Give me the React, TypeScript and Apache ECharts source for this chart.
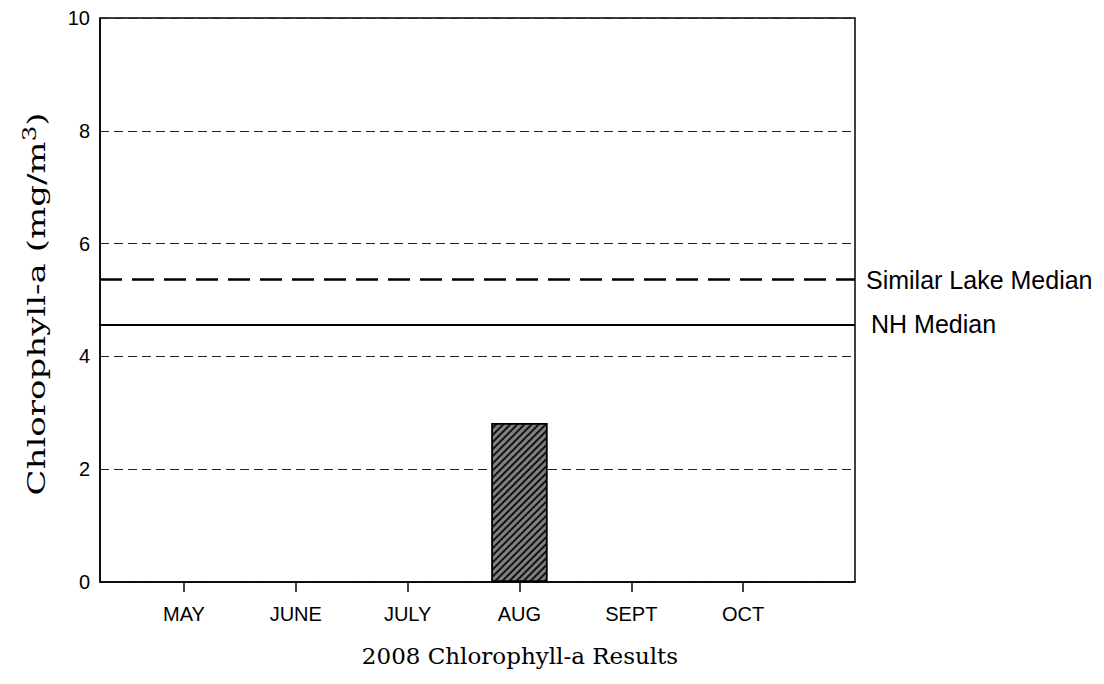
import React, { useEffect, useRef } from "react";
import * as echarts from "echarts";

const monthLabels = ["MAY", "JUNE", "JULY", "AUG", "SEPT", "OCT"];
const monthPositions = [5, 6, 7, 8, 9, 10];
const chlorophyll = [null, null, null, 2.82, null, null];
const similarLakeMedian = 5.36;
const nhMedian = 4.57;
const yTicks = [0, 2, 4, 6, 8, 10];

export default function App() {
  const ref = useRef<HTMLDivElement>(null);
  useEffect(() => {
    const chart = echarts.init(ref.current!, null, { renderer: "svg" });
    const barData = monthPositions
      .map((m, i) => [m, chlorophyll[i]])
      .filter((d) => d[1] !== null);
    chart.setOption({
      animation: false,
      grid: {
        left: 100,
        right: 249,
        top: 18,
        bottom: 102,
        show: true,
        borderColor: "#000",
        borderWidth: 1.5,
        containLabel: false,
      },
      xAxis: {
        type: "value",
        min: 4.25,
        max: 11,
        interval: 0.25,
        axisLine: { show: true, onZero: false, lineStyle: { color: "#000", width: 1.5 } },
        axisTick: {
          show: true,
          customValues: monthPositions,
          length: 10,
          lineStyle: { color: "#000", width: 1.5 },
        },
        axisLabel: {
          customValues: monthPositions,
          formatter: (v: number) => monthLabels[monthPositions.indexOf(Math.round(v))] ?? "",
          color: "#000",
          fontFamily: "Liberation Sans",
          fontSize: 20,
          margin: 22,
        },
        splitLine: { show: false },
      },
      yAxis: {
        type: "value",
        min: yTicks[0],
        max: yTicks[yTicks.length - 1],
        interval: 2,
        axisLine: { show: true, lineStyle: { color: "#000", width: 1.5 } },
        axisTick: { show: false },
        axisLabel: {
          color: "#000",
          fontFamily: "Liberation Sans",
          fontSize: 20,
          margin: 10,
        },
        splitLine: {
          show: true,
          lineStyle: { color: "#222", width: 1, type: [9, 5] },
        },
      },
      graphic: [
        {
          type: "text",
          x: 520,
          y: 656,
          style: {
            text: "2008 Chlorophyll-a Results",
            fontFamily: "DejaVu Serif",
            fontSize: 23,
            fill: "#000",
            align: "center",
            verticalAlign: "middle",
          },
        },
        {
          type: "text",
          x: 36,
          y: 304,
          rotation: Math.PI / 2,
          scaleX: 1.36,
          style: {
            text: "Chlorophyll-a (mg/m{sup|3})",
            fontFamily: "DejaVu Serif",
            fontSize: 25,
            fill: "#000",
            align: "center",
            verticalAlign: "middle",
            rich: {
              sup: {
                fontFamily: "DejaVu Serif",
                fontSize: 18,
                fill: "#000",
                verticalAlign: "top",
                padding: [0, 0, 12, 0],
              },
            },
          },
        },
      ],
      series: [
        {
          type: "bar",
          data: barData,
          barWidth: 56,
          itemStyle: {
            color: "#808080",
            borderColor: "#000",
            borderWidth: 1.5,
            decal: {
              symbol: "rect",
              color: "#111",
              dashArrayX: [1, 0],
              dashArrayY: [1.3, 2.5],
              rotation: -Math.PI / 4,
            },
          },
          markLine: {
            silent: true,
            symbol: "none",
            data: [
              {
                name: "Similar Lake Median",
                yAxis: similarLakeMedian,
                lineStyle: { color: "#000", width: 2.5, type: [22, 10] },
                label: { distance: 11 },
              },
              {
                name: "NH Median",
                yAxis: nhMedian,
                lineStyle: { color: "#000", width: 2, type: "solid" },
                label: { distance: 16 },
              },
            ],
            label: {
              show: true,
              position: "end",
              formatter: "{b}",
              color: "#000",
              fontFamily: "Liberation Sans",
              fontSize: 25,
            },
          },
        },
      ],
    });
    return () => chart.dispose();
  }, []);
  return <div ref={ref} style={{ width: 1104, height: 684, position: "absolute", left: 0, top: 0 }} />;
}
